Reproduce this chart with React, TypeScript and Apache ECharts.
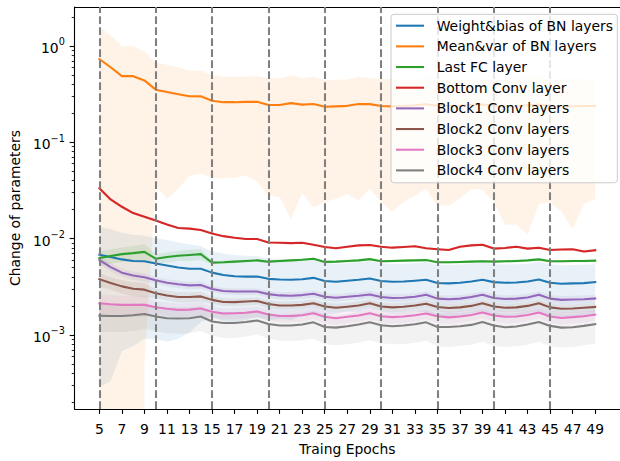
import React, { useEffect, useRef } from "react";
import * as echarts from "echarts";

// ---------------- data ----------------
const epochs = [5, 6, 7, 8, 9, 10, 11, 12, 13, 14, 15, 16, 17, 18, 19, 20, 21, 22, 23, 24, 25, 26, 27, 28, 29, 30, 31, 32, 33, 34, 35, 36, 37, 38, 39, 40, 41, 42, 43, 44, 45, 46, 47, 48, 49];
const xTickLabels = [5, 7, 9, 11, 13, 15, 17, 19, 21, 23, 25, 27, 29, 31, 33, 35, 37, 39, 41, 43, 45, 47, 49];
const dividerEpochs = [5, 10, 15, 20, 25, 30, 35, 40, 45];
const yMajorTicks = [1e-3, 1e-2, 1e-1, 1];
const yMinorTicks = [2e-4, 3e-4, 4e-4, 5e-4, 6e-4, 7e-4, 8e-4, 9e-4, 2e-3, 3e-3, 4e-3, 5e-3, 6e-3, 7e-3, 8e-3, 9e-3, 2e-2, 3e-2, 4e-2, 5e-2, 6e-2, 7e-2, 8e-2, 9e-2, 0.2, 0.3, 0.4, 0.5, 0.6, 0.7, 0.8, 0.9, 2];

const seriesNames = [
  "Weight&bias of BN layers",
  "Mean&var of BN layers",
  "Last FC layer",
  "Bottom Conv layer",
  "Block1 Conv layers",
  "Block2 Conv layers",
  "Block3 Conv layers",
  "Block4 Conv layers",
];
const seriesColors = ["#1f77b4", "#ff7f0e", "#2ca02c", "#d62728", "#9467bd", "#8c564b", "#e377c2", "#7f7f7f"];

// means
const bnWeightMean = [0.00679, 0.00643, 0.00608, 0.00586, 0.00581, 0.0055, 0.00525, 0.00501, 0.00486, 0.00486, 0.00443, 0.00419, 0.00406, 0.00403, 0.00403, 0.00382, 0.00376, 0.00373, 0.00378, 0.00391, 0.00362, 0.00356, 0.00365, 0.00373, 0.00385, 0.00362, 0.00356, 0.00359, 0.00365, 0.00373, 0.00346, 0.00343, 0.00348, 0.00359, 0.00373, 0.00353, 0.00348, 0.0035, 0.00359, 0.00376, 0.00348, 0.0034, 0.00343, 0.00345, 0.00353];
const bnStatMean = [0.731, 0.601, 0.486, 0.486, 0.439, 0.352, 0.333, 0.316, 0.301, 0.3, 0.27, 0.261, 0.261, 0.263, 0.263, 0.244, 0.244, 0.255, 0.246, 0.25, 0.234, 0.236, 0.239, 0.25, 0.249, 0.238, 0.236, 0.238, 0.242, 0.248, 0.24, 0.238, 0.24, 0.243, 0.247, 0.238, 0.236, 0.238, 0.242, 0.246, 0.238, 0.236, 0.237, 0.238, 0.238];
const fcMean = [0.00628, 0.00659, 0.0069, 0.00706, 0.00728, 0.00618, 0.00643, 0.00664, 0.00675, 0.0069, 0.00563, 0.00567, 0.00576, 0.00586, 0.00594, 0.00576, 0.00586, 0.00594, 0.00604, 0.00618, 0.00573, 0.00576, 0.00586, 0.00594, 0.00612, 0.00581, 0.00586, 0.0059, 0.00594, 0.00598, 0.00567, 0.00567, 0.00572, 0.00576, 0.00581, 0.00576, 0.00581, 0.00586, 0.00594, 0.00608, 0.00581, 0.00581, 0.00586, 0.00586, 0.0059];
const bottomConvMean = [0.0334, 0.0255, 0.0214, 0.0184, 0.0169, 0.0154, 0.014, 0.0129, 0.0127, 0.0123, 0.0113, 0.0106, 0.0102, 0.0099, 0.0099, 0.0091, 0.00905, 0.00898, 0.00905, 0.00863, 0.00818, 0.00794, 0.00824, 0.0085, 0.00857, 0.00824, 0.00805, 0.00818, 0.00832, 0.00794, 0.00776, 0.00762, 0.00824, 0.0085, 0.00863, 0.00787, 0.008, 0.00824, 0.00787, 0.00805, 0.00762, 0.00769, 0.00775, 0.00733, 0.00757];
const block1Mean = [0.006, 0.00505, 0.00443, 0.00413, 0.00397, 0.0037, 0.00348, 0.00335, 0.00327, 0.0033, 0.003, 0.00286, 0.00282, 0.00282, 0.00282, 0.00265, 0.00257, 0.00255, 0.00259, 0.00267, 0.00249, 0.00243, 0.00249, 0.00255, 0.00263, 0.00247, 0.00242, 0.00243, 0.00249, 0.00261, 0.00238, 0.00234, 0.00238, 0.00247, 0.00261, 0.00242, 0.00236, 0.00238, 0.00245, 0.00261, 0.00238, 0.00231, 0.00233, 0.00234, 0.00239];
const block2Mean = [0.00379, 0.00345, 0.00319, 0.00302, 0.00295, 0.00271, 0.00257, 0.00247, 0.00247, 0.00251, 0.00231, 0.0022, 0.00219, 0.00222, 0.00225, 0.00209, 0.00202, 0.00202, 0.00205, 0.00213, 0.00197, 0.00191, 0.00196, 0.00202, 0.00213, 0.00197, 0.00193, 0.00196, 0.00202, 0.00211, 0.00195, 0.0019, 0.00193, 0.002, 0.00213, 0.00197, 0.00191, 0.00193, 0.002, 0.00213, 0.00193, 0.00187, 0.00188, 0.00191, 0.00195];
const block3Mean = [0.00213, 0.00208, 0.00205, 0.00205, 0.00205, 0.00194, 0.00187, 0.00182, 0.00183, 0.00188, 0.00174, 0.00167, 0.00168, 0.0017, 0.00175, 0.00163, 0.00157, 0.00157, 0.0016, 0.00168, 0.00154, 0.00149, 0.00154, 0.00159, 0.00168, 0.00156, 0.00153, 0.00155, 0.0016, 0.00167, 0.00156, 0.00152, 0.00155, 0.00161, 0.00171, 0.00159, 0.00154, 0.00155, 0.00161, 0.00171, 0.00155, 0.0015, 0.00153, 0.00156, 0.00162];
const block4Mean = [0.00158, 0.00157, 0.00157, 0.0016, 0.00165, 0.00155, 0.00149, 0.00148, 0.00149, 0.00155, 0.00138, 0.00133, 0.00133, 0.00136, 0.00141, 0.0013, 0.00125, 0.00125, 0.00128, 0.00135, 0.00121, 0.00119, 0.00123, 0.00128, 0.00135, 0.00126, 0.00123, 0.00125, 0.00129, 0.00135, 0.00121, 0.00121, 0.00123, 0.00127, 0.00136, 0.00125, 0.0012, 0.00122, 0.00128, 0.00136, 0.00124, 0.00119, 0.0012, 0.00124, 0.00129];

// standard deviations (shaded band = mean ± std)
const bnWeightStd = [0.0065, 0.0061, 0.0054, 0.0051, 0.0049, 0.0046, 0.0044, 0.0041, 0.0038, 0.0035, 0.0029, 0.0028, 0.0027, 0.0026, 0.0025, 0.0024, 0.0023, 0.0023, 0.0022, 0.0022, 0.002, 0.0019, 0.0019, 0.002, 0.002, 0.0019, 0.0019, 0.0019, 0.0019, 0.002, 0.0019, 0.0019, 0.0019, 0.0019, 0.002, 0.0019, 0.0019, 0.0019, 0.0019, 0.002, 0.0019, 0.0019, 0.0019, 0.0019, 0.0019];
const bnStatStd = [0.85, 0.69, 0.5, 0.51, 0.4385, 0.316, 0.307, 0.283, 0.256, 0.253, 0.227, 0.219, 0.218, 0.218, 0.224, 0.216, 0.217, 0.239, 0.216, 0.229, 0.21, 0.21, 0.21, 0.225, 0.216, 0.214, 0.217, 0.214, 0.214, 0.215, 0.218, 0.216, 0.214, 0.21, 0.215, 0.214, 0.222, 0.224, 0.231, 0.223, 0.214, 0.217, 0.2245, 0.215, 0.212];
const fcStd = [0.001, 0.0011, 0.0012, 0.0013, 0.0015, 0.0007, 0.0008, 0.0008, 0.0009, 0.0009, 0.0002, 0.0002, 0.0002, 0.0002, 0.0002, 0.0002, 0.0002, 0.0002, 0.0002, 0.0002, 0.0002, 0.0002, 0.0002, 0.0002, 0.0002, 0.0002, 0.0002, 0.0002, 0.0002, 0.0002, 0.0002, 0.0002, 0.0002, 0.0002, 0.0002, 0.0002, 0.0002, 0.0002, 0.0002, 0.0002, 0.0002, 0.0002, 0.0002, 0.0002, 0.0002];
const bottomConvStd = [0.0015, 0.001, 0.0008, 0.0006, 0.0005, 0.0004, 0.0004, 0.0003, 0.0003, 0.0003, 0.0002, 0.0002, 0.0002, 0.0002, 0.0002, 0.0002, 0.0002, 0.0002, 0.0002, 0.0002, 0.0002, 0.0002, 0.0002, 0.0002, 0.0002, 0.0002, 0.0002, 0.0002, 0.0002, 0.0002, 0.0002, 0.0002, 0.0002, 0.0002, 0.0002, 0.0002, 0.0002, 0.0002, 0.0002, 0.0002, 0.0002, 0.0002, 0.0002, 0.0002, 0.0002];
const block1Std = [0.0006, 0.0005, 0.0004, 0.0004, 0.0004, 0.0003, 0.0003, 0.0003, 0.0003, 0.0003, 0.00022, 0.00022, 0.00022, 0.00022, 0.00022, 0.00022, 0.00022, 0.00022, 0.00022, 0.00022, 0.00022, 0.00022, 0.00022, 0.00022, 0.00022, 0.00022, 0.00022, 0.00022, 0.00022, 0.00022, 0.00022, 0.00022, 0.00022, 0.00022, 0.00022, 0.00022, 0.00022, 0.00022, 0.00022, 0.00022, 0.00022, 0.00022, 0.00022, 0.00022, 0.00022];
const block2Std = [0.0006, 0.0005, 0.0005, 0.0005, 0.0005, 0.0003, 0.0003, 0.0003, 0.0003, 0.0003, 0.0002, 0.0002, 0.0002, 0.0002, 0.0002, 0.0002, 0.0002, 0.0002, 0.0002, 0.0002, 0.0002, 0.0002, 0.0002, 0.0002, 0.0002, 0.0002, 0.0002, 0.0002, 0.0002, 0.0002, 0.0002, 0.0002, 0.0002, 0.0002, 0.0002, 0.0002, 0.0002, 0.0002, 0.0002, 0.0002, 0.0002, 0.0002, 0.0002, 0.0002, 0.0002];
const block3Std = [0.0005, 0.0005, 0.0005, 0.0005, 0.0005, 0.0003, 0.0003, 0.0003, 0.0003, 0.0003, 0.00022, 0.00022, 0.00022, 0.00022, 0.00022, 0.00022, 0.00022, 0.00022, 0.00022, 0.00022, 0.00022, 0.00022, 0.00022, 0.00022, 0.00022, 0.00022, 0.00022, 0.00022, 0.00022, 0.00022, 0.00022, 0.00022, 0.00022, 0.00022, 0.00022, 0.00022, 0.00022, 0.00022, 0.00022, 0.00022, 0.00022, 0.00022, 0.00022, 0.00022, 0.00022];
const block4Std = [0.0005, 0.0005, 0.0005, 0.0005, 0.0005, 0.00045, 0.00045, 0.00045, 0.00045, 0.00045, 0.0004, 0.0004, 0.0004, 0.0004, 0.0004, 0.00038, 0.00038, 0.00039, 0.0004, 0.00043, 0.00041, 0.00041, 0.00043, 0.00045, 0.00047, 0.00044, 0.00043, 0.00045, 0.00046, 0.00048, 0.00045, 0.00046, 0.00046, 0.00048, 0.00051, 0.00048, 0.00045, 0.00046, 0.00049, 0.00051, 0.00048, 0.00045, 0.00045, 0.00046, 0.00048];

const allMeans = [bnWeightMean, bnStatMean, fcMean, bottomConvMean, block1Mean, block2Mean, block3Mean, block4Mean];
const allStds = [bnWeightStd, bnStatStd, fcStd, bottomConvStd, block1Std, block2Std, block3Std, block4Std];

// ---------------- chart ----------------
const FONT = "DejaVu Sans";
const X_MIN = 2.8;
const X_MAX = 51.2;
const Y_MIN = 1.7e-4;
const Y_MAX = 2.54;

function supLabel(v: number): string {
  const e = Math.round(Math.log10(v));
  const s = e < 0 ? "\u2212" + String(-e) : String(e);
  return "{b|10}{s|" + s + "}";
}

function makeBand(idx: number) {
  const mean = allMeans[idx];
  const std = allStds[idx];
  const rows = epochs.map((e, i) => [e, mean[i] - std[i], mean[i] + std[i]]);
  return {
    type: "custom",
    name: "band-" + idx,
    xAxisIndex: 0,
    yAxisIndex: 0,
    data: rows,
    encode: { x: 0, y: 2 },
    clip: true,
    silent: true,
    z: 1,
    renderItem: (params: any, api: any) => {
      if (params.dataIndex !== 0) return null;
      const top = rows.map((r) => api.coord([r[0], r[2]]));
      // non-positive lower bounds are clipped far below the axis (like matplotlib's log clip)
      const bottom = rows.map((r) => api.coord([r[0], Math.max(r[1], 1e-100)])).reverse();
      return {
        type: "polygon",
        shape: { points: top.concat(bottom) },
        style: { fill: seriesColors[idx], opacity: 0.1 },
        silent: true,
      };
    },
  };
}

function makeLine(idx: number) {
  const mean = allMeans[idx];
  const s: any = {
    type: "line",
    name: seriesNames[idx],
    xAxisIndex: 0,
    yAxisIndex: 0,
    data: epochs.map((e, i) => [e, mean[i]]),
    color: seriesColors[idx],
    showSymbol: false,
    symbol: "none",
    silent: true,
    z: 2,
    lineStyle: { width: 2.08, color: seriesColors[idx], join: "round", cap: "square" },
    emphasis: { disabled: true },
  };
  if (idx === allMeans.length - 1) {
    s.markLine = {
      silent: true,
      symbol: ["none", "none"],
      label: { show: false },
      z: 3,
      lineStyle: { color: "#808080", width: 2.08, type: [7.7, 3.3] },
      emphasis: { disabled: true },
      data: dividerEpochs.map((v) => ({ xAxis: v })),
    };
  }
  return s;
}

export default function App() {
  const ref = useRef<HTMLDivElement>(null);

  useEffect(() => {
    if (!ref.current) return;
    const chart = echarts.init(ref.current, undefined, { renderer: "svg" });
    const bands = allMeans.map((_, i) => makeBand(i));
    const lines = allMeans.map((_, i) => makeLine(i));
    const axisLineStyle = { color: "#000", width: 1.1 };
    const labelStyle = { color: "#000", fontFamily: FONT, fontSize: 13.9 };

    chart.setOption({
      animation: false,
      textStyle: { fontFamily: FONT },
      grid: { left: 73, top: 7, right: -5, bottom: 42 },
      xAxis: [
        {
          type: "value",
          min: X_MIN,
          max: X_MAX,
          position: "bottom",
          name: "Traing Epochs",
          nameLocation: "middle",
          nameGap: 33,
          nameTextStyle: labelStyle,
          axisLine: { show: true, lineStyle: axisLineStyle },
          axisTick: { show: true, customValues: xTickLabels, length: 4.9, lineStyle: axisLineStyle },
          axisLabel: { show: true, customValues: xTickLabels, margin: 12.5, ...labelStyle },
          splitLine: { show: false },
        },
        {
          type: "value",
          min: X_MIN,
          max: X_MAX,
          position: "top",
          axisLine: { show: true, lineStyle: axisLineStyle },
          axisTick: { show: false },
          axisLabel: { show: false },
          splitLine: { show: false },
        },
      ],
      yAxis: [
        {
          type: "log",
          logBase: 10,
          min: Y_MIN,
          max: Y_MAX,
          position: "left",
          name: "Change of parameters",
          nameLocation: "middle",
          nameGap: 47,
          nameTextStyle: labelStyle,
          axisLine: { show: true, lineStyle: axisLineStyle },
          axisTick: { show: true, customValues: yMajorTicks, length: 4.9, lineStyle: axisLineStyle },
          axisLabel: {
            show: true,
            customValues: yMajorTicks,
            margin: 9.7,
            formatter: (v: number) => supLabel(v),
            rich: {
              b: { fontFamily: FONT, fontSize: 13.9, color: "#000", lineHeight: 18, verticalAlign: "bottom" },
              s: { fontFamily: FONT, fontSize: 9.7, color: "#000", lineHeight: 11, verticalAlign: "top" },
            },
          },
          splitLine: { show: false },
        },
        {
          type: "log",
          logBase: 10,
          min: Y_MIN,
          max: Y_MAX,
          position: "left",
          axisLine: { show: false },
          axisTick: { show: true, customValues: yMinorTicks, length: 2.8, lineStyle: { color: "#000", width: 0.83 } },
          axisLabel: { show: false },
          splitLine: { show: false },
        },
      ],
      legend: {
        data: seriesNames,
        orient: "vertical",
        left: 391,
        top: 14.3,
        z: 10,
        padding: [4.4, 4.3, 5.4, 5],
        itemGap: 6.67,
        itemWidth: 28,
        itemHeight: 2.08,
        icon: "rect",
        itemStyle: { borderWidth: 0 },
        selectedMode: false,
        backgroundColor: "rgba(255,255,255,0.8)",
        borderColor: "#cccccc",
        borderWidth: 1,
        borderRadius: 3,
        textStyle: { fontFamily: FONT, fontSize: 13.9, color: "#000", lineHeight: 14, padding: [0, 0, 0, 7.7] },
      },
      series: [...bands, ...lines],
    });

    return () => {
      chart.dispose();
    };
  }, []);

  return (
    <div
      ref={ref}
      style={{ position: "absolute", left: 0, top: 0, width: 620, height: 461, background: "#fff" }}
    />
  );
}
